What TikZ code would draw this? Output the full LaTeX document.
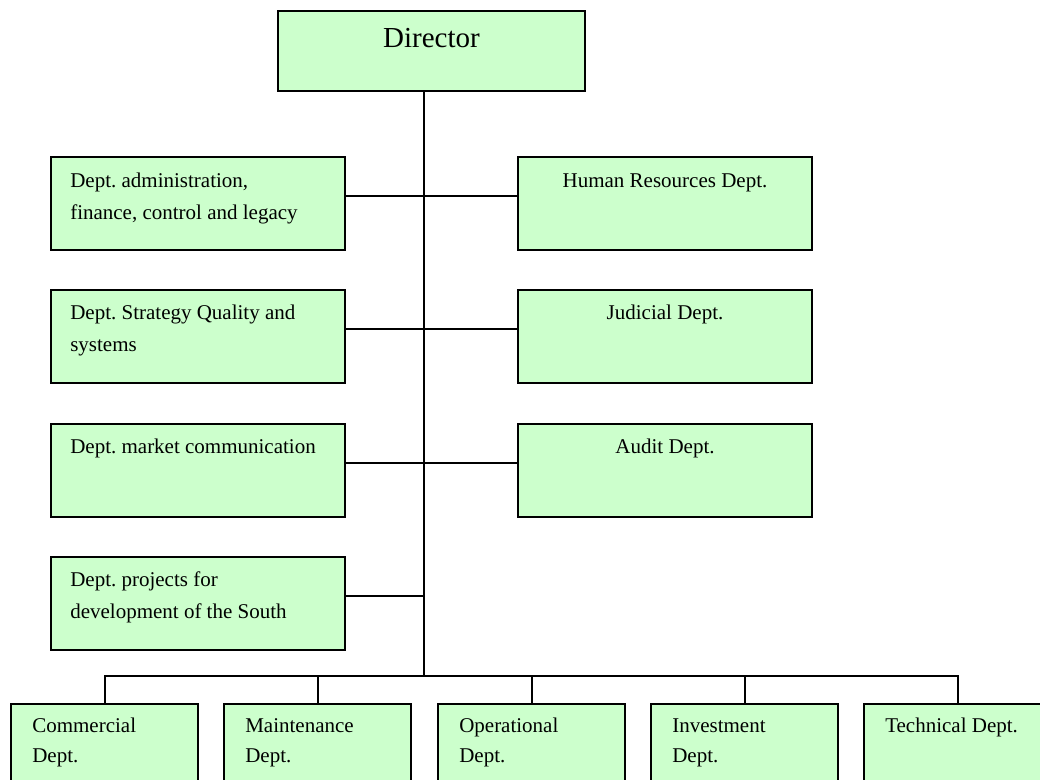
\documentclass[tikz,border=0pt]{standalone}
\usepackage{fontspec}
\setmainfont{Liberation Serif}
\usetikzlibrary{calc}
\definecolor{boxgreen}{HTML}{CCFFCC}
\newcommand{\boxtext}[2]{\parbox[t]{300pt}{\raggedright\baselineskip=#1 #2}}
\frenchspacing
\begin{document}
\frenchspacing
\begin{tikzpicture}[x=0.75pt,y=-0.75pt,
  box/.style={draw=black, line width=1.5pt, fill=boxgreen, inner sep=0pt, anchor=north west},
  sidebox/.style={box, minimum width=220.5pt, minimum height=69.75pt},
  botbox/.style={box, minimum width=140.25pt, minimum height=75pt},
  dirbox/.style={box, minimum width=230.25pt, minimum height=60pt},
  txt/.style={inner sep=0pt, font=\fontsize{15.75pt}{24pt}\selectfont\frenchspacing, anchor=base west},
  ctxt/.style={txt, anchor=base},
  conn/.style={draw=black, line width=1.5pt}]
\useasboundingbox (0,0) rectangle (1040,780);
\clip (0,0) rectangle (1040,780);

% Director
\node[dirbox] (dir) at (277,10) {};
\node[ctxt, font=\fontsize{21.75pt}{26pt}\selectfont] (dirt) at ($(dir.north)+(0,38)$) {Director};

% left boxes
\node[sidebox] (l1) at (50,156) {};
\node[sidebox] (l2) at (50,289) {};
\node[sidebox] (l3) at (50,423) {};
\node[sidebox] (l4) at (50,556) {};
\node[txt] (l1t) at ($(l1.north west)+(20,32)$) {\boxtext{24pt}{Dept. administration,\\finance, control and legacy}};
\node[txt] (l2t) at ($(l2.north west)+(20,31)$) {\boxtext{24pt}{Dept. Strategy Quality and\\systems}};
\node[txt] (l3t) at ($(l3.north west)+(20,31)$) {Dept. market communication};
\node[txt] (l4t) at ($(l4.north west)+(20,31)$) {\boxtext{24pt}{Dept. projects for\\development of the South}};

% right boxes
\node[sidebox] (r1) at (517,156) {};
\node[sidebox] (r2) at (517,289) {};
\node[sidebox] (r3) at (517,423) {};
\node[ctxt] (r1t) at ($(r1.north)+(0,32)$) {Human Resources Dept.};
\node[ctxt] (r2t) at ($(r2.north)+(0,31)$) {Judicial Dept.};
\node[ctxt] (r3t) at ($(r3.north)+(0,31)$) {Audit Dept.};

% bottom boxes
\node[botbox] (b1) at (10,703) {};
\node[botbox] (b2) at (223,703) {};
\node[botbox] (b3) at (437,703) {};
\node[botbox] (b4) at (650,703) {};
\node[botbox] (b5) at (863,703) {};
\node[txt] (b1t) at ($(b1.north west)+(22,30)$) {\boxtext{22.5pt}{Commercial\\Dept.}};
\node[txt] (b2t) at ($(b2.north west)+(22,30)$) {\boxtext{22.5pt}{Maintenance\\Dept.}};
\node[txt] (b3t) at ($(b3.north west)+(22,30)$) {\boxtext{22.5pt}{Operational\\Dept.}};
\node[txt] (b4t) at ($(b4.north west)+(22,30)$) {\boxtext{22.5pt}{Investment\\Dept.}};
\node[txt] (b5t) at ($(b5.north west)+(22,30)$) {Technical Dept.};

% connectors
\coordinate (spinetop) at ($(dir.south west)+(147,0)$);
\coordinate (bar) at (424,676);
\draw[conn] (spinetop) -- (spinetop |- bar);

\coordinate (l1e) at ($(l1.north east)+(0,40)$);
\coordinate (r1w) at ($(r1.north west)+(0,40)$);
\coordinate (l2e) at ($(l2.north east)+(0,40)$);
\coordinate (r2w) at ($(r2.north west)+(0,40)$);
\coordinate (l3e) at ($(l3.north east)+(0,40)$);
\coordinate (r3w) at ($(r3.north west)+(0,40)$);
\coordinate (l4e) at ($(l4.north east)+(0,40)$);
\draw[conn] (l1e) -- (r1w);
\draw[conn] (l2e) -- (r2w);
\draw[conn] (l3e) -- (r3w);
\draw[conn] (l4e) -- (l4e -| spinetop);

\draw[conn] (b1.north) -- (b1.north |- bar) -- (b5.north |- bar) -- (b5.north);
\draw[conn] (b2.north) -- (b2.north |- bar);
\draw[conn] (b3.north) -- (b3.north |- bar);
\draw[conn] (b4.north) -- (b4.north |- bar);
\end{tikzpicture}
\end{document}
